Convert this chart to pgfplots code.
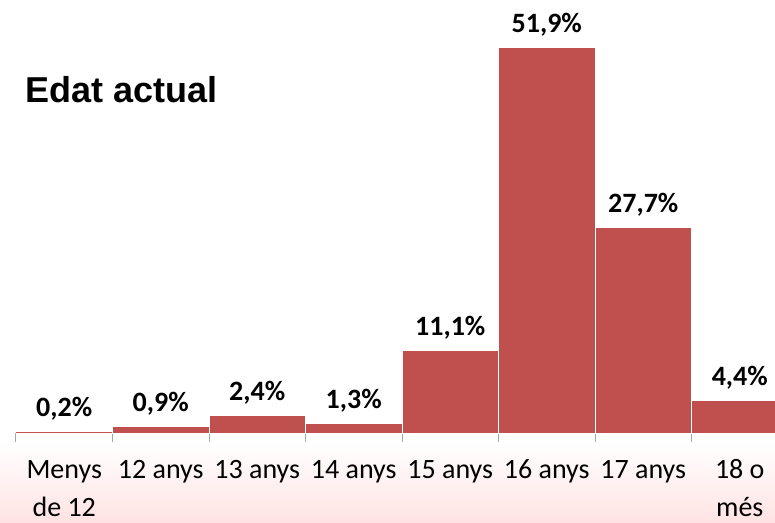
\documentclass[border=0pt]{standalone}
\usepackage{pgfplots}
\pgfplotsset{compat=1.18}
\usepackage{fontspec}
\setmainfont{Carlito}
\newfontfamily\arialfont{Liberation Sans}
\definecolor{barred}{RGB}{192,80,77}

\begin{document}
\begin{tikzpicture}
  \useasboundingbox (0,0) rectangle (775pt,522pt);
  \clip (0,0) rectangle (775pt,522pt);
  % pale pink wash under the axis
  \shade[top color=white, bottom color=red!11] (0,0) rectangle (775pt,80pt);
  \node[anchor=base west, font=\arialfont\bfseries\fontsize{36}{40}\selectfont] at (22pt,419pt) {Edat actual};
  \begin{axis}[
      at={(16pt,89pt)}, anchor=south west,
      scale only axis,
      width=772pt, height=408pt,
      xmin=-0.5, xmax=7.5,
      ymin=0, ymax=55,
      ybar, bar width=1,
      axis x line*=bottom,
      hide y axis,
      x axis line style={gray!70, line width=1pt},
      tick align=outside,
      x tick label as interval,
      xtick={-0.5,0.5,...,7.5},
      xticklabels={{Menys\\de 12},12 anys,13 anys,14 anys,15 anys,16 anys,17 anys,{18 o\\més}},
      typeset ticklabels with strut,
      major tick length=9pt,
      xtick style={draw=gray!70, line width=1pt},
      xticklabel style={align=center, font=\fontsize{28}{38}\selectfont, yshift=-6pt},
      nodes near coords={\pgfmathprintnumber{\pgfplotspointmeta}\%},
      nodes near coords style={font=\bfseries\fontsize{28}{30}\selectfont, text=black},
      every node near coord/.append style={anchor=base, yshift=15pt},
      /pgf/number format/.cd, use comma, fixed, fixed zerofill, precision=1, assume math mode=true,
    ]
    \addplot[fill=barred, draw=white, line width=1pt] coordinates {
      (0,0.2) (1,0.9) (2,2.4) (3,1.3) (4,11.1) (5,51.9) (6,27.7) (7,4.4)
    };
  \end{axis}
\end{tikzpicture}
\end{document}
